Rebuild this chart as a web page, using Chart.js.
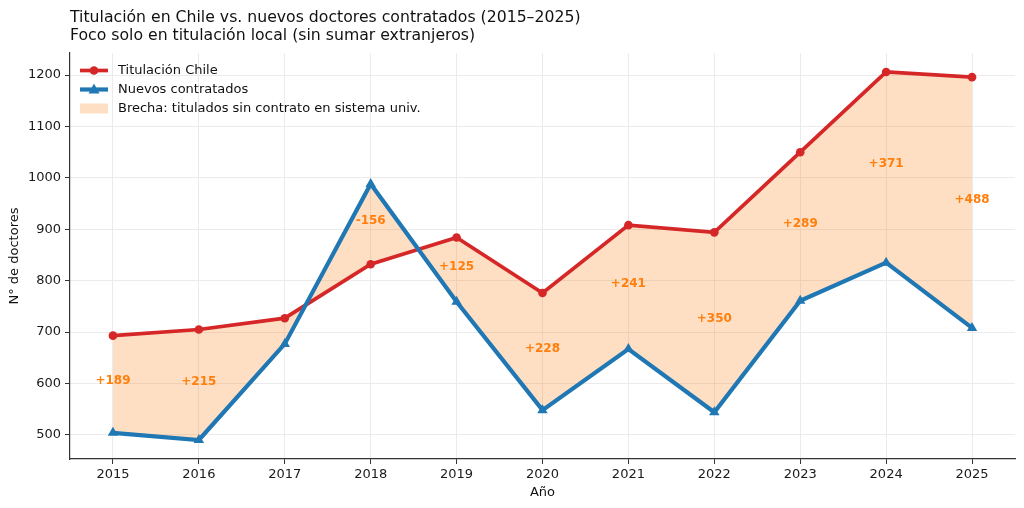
<!DOCTYPE html>
<html lang="es">
<head>
<meta charset="utf-8">
<title>Titulación vs contratados</title>
<style>
  body { margin: 0; background: #fff; }
  #chart { display: block; }
</style>
</head>
<body>
<canvas id="chart" width="1024" height="508"></canvas>
<script src="https://cdn.jsdelivr.net/npm/chart.js@4/dist/chart.umd.min.js"></script>
<script>
  // datos
  var years = [2015, 2016, 2017, 2018, 2019, 2020, 2021, 2022, 2023, 2024, 2025];
  var titulacion = [693, 705, 727, 832, 884, 776, 908, 894, 1050, 1206, 1196];
  var contratados = [504, 490, 677, 988, 759, 548, 667, 544, 761, 835, 708];
  var yTicks = [500, 600, 700, 800, 900, 1000, 1100, 1200];

  var titleLines = [
    "Titulación en Chile vs. nuevos doctores contratados (2015–2025)",
    "Foco solo en titulación local (sin sumar extranjeros)"
  ];
  var legendLabels = ["Titulación Chile", "Nuevos contratados", "Brecha: titulados sin contrato en sistema univ."];

  var RED = "#d62728";
  var BLUE = "#1f77b4";
  var ORANGE = "#ff7f0e";
  var FILL = "rgba(255,127,14,0.25)";
  var FONT = "'DejaVu Sans', sans-serif";
  var RED_W = 3.7, BLUE_W = 4.2;

  function pts(vals) {
    var out = [];
    for (var i = 0; i < years.length; i++) out.push({ x: years[i], y: vals[i] });
    return out;
  }

  function asTicks(list) {
    return list.map(function(v) { return { value: v }; });
  }

  // titulo arriba a la izquierda
  var titlePlugin = {
    id: "titleText",
    afterDraw: function(chart) {
      var ctx = chart.ctx;
      ctx.save();
      ctx.fillStyle = "#111";
      ctx.font = "15.7px " + FONT;
      ctx.textAlign = "left";
      ctx.textBaseline = "alphabetic";
      ctx.fillText(titleLines[0], 70, 22);
      ctx.fillText(titleLines[1], 70, 39.5);
      ctx.restore();
    }
  };

  // etiquetas de brecha en el medio de las dos lineas
  var gapPlugin = {
    id: "gapLabels",
    afterDatasetsDraw: function(chart) {
      var ctx = chart.ctx;
      var xs = chart.scales.x, ys = chart.scales.y;
      ctx.save();
      ctx.font = "bold 12px " + FONT;
      ctx.fillStyle = ORANGE;
      ctx.textAlign = "center";
      ctx.textBaseline = "middle";
      for (var i = 0; i < years.length; i++) {
        var gap = titulacion[i] - contratados[i];
        if (Math.abs(gap) < 100) continue;
        var mid = (titulacion[i] + contratados[i]) / 2;
        var txt = (gap > 0 ? "+" : "") + gap;
        ctx.fillText(txt, xs.getPixelForValue(years[i]), ys.getPixelForValue(mid) - 3);
      }
      ctx.restore();
    }
  };

  // leyenda dentro del area
  var legendPlugin = {
    id: "innerLegend",
    afterDraw: function(chart) {
      var ctx = chart.ctx;
      var x0 = 80, x1 = 108, tx = 118;
      var rows = [70.5, 89.5, 108.5];
      var cx = (x0 + x1) / 2;
      ctx.save();
      ctx.lineCap = "butt";
      // rojo
      ctx.strokeStyle = RED; ctx.lineWidth = RED_W;
      ctx.beginPath(); ctx.moveTo(x0, rows[0]); ctx.lineTo(x1, rows[0]); ctx.stroke();
      ctx.fillStyle = RED;
      ctx.beginPath(); ctx.arc(cx, rows[0], 4.3, 0, Math.PI * 2); ctx.fill();
      // azul
      ctx.strokeStyle = BLUE; ctx.lineWidth = BLUE_W;
      ctx.beginPath(); ctx.moveTo(x0, rows[1]); ctx.lineTo(x1, rows[1]); ctx.stroke();
      ctx.fillStyle = BLUE;
      ctx.beginPath(); ctx.moveTo(cx, rows[1] - 6); ctx.lineTo(cx + 5.5, rows[1] + 4); ctx.lineTo(cx - 5.5, rows[1] + 4); ctx.closePath(); ctx.fill();
      // brecha
      ctx.fillStyle = FILL;
      ctx.fillRect(x0, rows[2] - 5, x1 - x0, 10);
      ctx.fillStyle = "#111";
      ctx.font = "13px " + FONT;
      ctx.textBaseline = "middle";
      for (var i = 0; i < legendLabels.length; i++) ctx.fillText(legendLabels[i], tx, rows[i]);
      ctx.restore();
    }
  };

  new Chart(document.getElementById("chart"), {
    type: "line",
    data: {
      datasets: [{
        label: legendLabels[0],
        data: pts(titulacion),
        borderColor: RED,
        backgroundColor: FILL,
        borderWidth: RED_W,
        pointStyle: "circle",
        pointRadius: 4.3,
        pointBackgroundColor: RED,
        pointBorderWidth: 0,
        fill: { target: 1, above: FILL, below: FILL },
        tension: 0,
        order: 2
      }, {
        label: legendLabels[1],
        data: pts(contratados),
        borderColor: BLUE,
        backgroundColor: BLUE,
        borderWidth: BLUE_W,
        pointStyle: "triangle",
        pointRadius: 6,
        pointBackgroundColor: BLUE,
        pointBorderWidth: 0,
        fill: false,
        tension: 0,
        order: 1
      }]
    },
    options: {
      responsive: false,
      animation: false,
      devicePixelRatio: 1,
      layout: { padding: { top: 53, right: 9, left: 0, bottom: 0 } },
      plugins: {
        legend: { display: false },
        title: { display: false },
        tooltip: { enabled: false }
      },
      scales: {
        x: {
          type: "linear",
          min: 2014.5,
          max: 2025.5,
          afterFit: function(s) { s.height = 49; },
          afterBuildTicks: function(s) { s.ticks = asTicks(years); },
          ticks: {
            color: "#1a1a1a",
            font: { family: FONT, size: 13 },
            padding: 3,
            maxRotation: 0,
            autoSkip: false,
            callback: function(v) { return String(v); }
          },
          grid: { color: "#ebebeb", tickColor: "#333", tickLength: 5, lineWidth: 1 },
          border: { color: "#333", width: 1.2 },
          title: { display: true, text: "Año", color: "#111", font: { family: FONT, size: 13 }, padding: { top: 0, bottom: 8 } }
        },
        y: {
          min: 453,
          max: 1243,
          afterFit: function(s) { s.width = 70; },
          afterBuildTicks: function(s) { s.ticks = asTicks(yTicks); },
          ticks: {
            color: "#1a1a1a",
            font: { family: FONT, size: 13 },
            padding: 4,
            callback: function(v) { return String(v); }
          },
          grid: { color: "#ebebeb", tickColor: "#333", tickLength: 5, lineWidth: 1 },
          border: { color: "#333", width: 1.2 },
          title: { display: true, text: "N° de doctores", color: "#111", font: { family: FONT, size: 13 }, padding: { top: 7, bottom: 0 } }
        }
      }
    },
    plugins: [titlePlugin, gapPlugin, legendPlugin]
  });
</script>
</body>
</html>
